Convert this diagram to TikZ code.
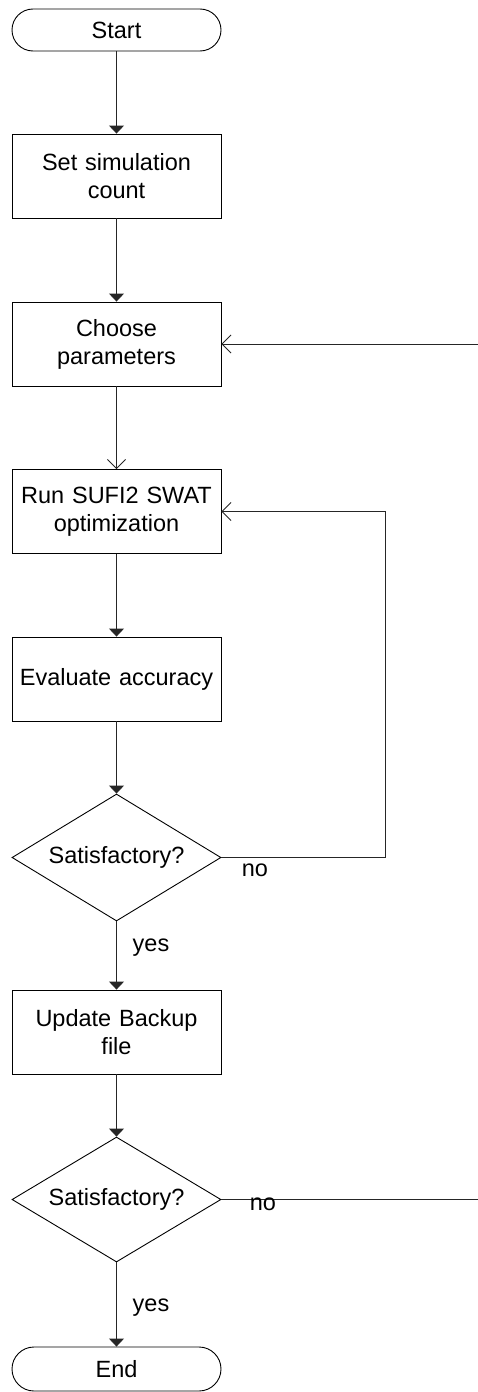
\documentclass[tikz,border=0pt]{standalone}
\usepackage{fontspec}
\setmainfont{Liberation Sans}
\usetikzlibrary{shapes.geometric,arrows.meta}
\begin{document}
\begin{tikzpicture}[x=1pt,y=1pt,
  every node/.style={font=\fontsize{23.5}{28}\selectfont, text=black},
  procbox/.style={draw=black, line width=0.9pt, minimum width=209pt, minimum height=84pt, inner sep=0pt, align=center, text width=200pt},
  termbox/.style={draw=black, line width=0.9pt, rounded corners=21pt, minimum width=209pt, minimum height=42pt, inner sep=0pt},
  decbox/.style={draw=black, line width=0.9pt, diamond, aspect=1.646, minimum width=209pt, minimum height=127pt, inner sep=0pt},
  flow/.style={draw=black!85, line width=0.9pt, -{Triangle[length=8pt,width=15pt]}},
  backflow/.style={draw=black!85, line width=0.9pt, -{Straight Barb[length=9pt,width=18pt,line width=0.9pt]}},
  plain/.style={draw=black!85, line width=0.9pt},
  lbl/.style={inner sep=0pt}
]
\useasboundingbox (0,0) rectangle (478,-1392);

\node[termbox] (start) at (116.5,-30) {Start};
\node[procbox] (set) at (116.5,-176) {Set simulation\\count};
\node[procbox] (choose) at (116.5,-344) {Choose\\parameters};
\node[procbox] (run) at (116.5,-511.5) {Run SUFI2 SWAT\\optimization};
\node[procbox] (eval) at (116.5,-679) {Evaluate accuracy};
\node[decbox] (d1) at (116.5,-857.5) {Satisfactory?};
\node[procbox] (upd) at (116.5,-1032) {Update Backup\\file};
\node[decbox, minimum height=125pt] (d2) at (116.5,-1199.5) {Satisfactory?};
\node[termbox, minimum height=44pt, rounded corners=22pt] (end) at (116.5,-1369) {End};

\coordinate (loopx) at (385,0);
\coordinate (cin) at (478,-344);
\coordinate (dout) at (478,-1199.5);

\draw[flow] (start) -- (set);
\draw[flow] (set) -- (choose);
\draw[backflow] (choose) -- (run);
\draw[flow] (run) -- (eval);
\draw[flow] (eval) -- (d1);
\draw[flow] (d1) -- (upd);
\draw[flow] (upd) -- (d2);
\draw[flow] (d2) -- (end);

\draw[backflow] (d1.east) -- (d1.east -| loopx) |- (run.east);
\draw[backflow] (cin) -- (choose.east);
\draw[plain] (d2.east) -- (dout);

\node[lbl] (no1) at (255,-870) {no};
\node[lbl] (yes1) at (151,-948) {yes};
\node[lbl] (no2) at (263,-1204) {no};
\node[lbl] (yes2) at (151,-1308) {yes};
\end{tikzpicture}
\end{document}
